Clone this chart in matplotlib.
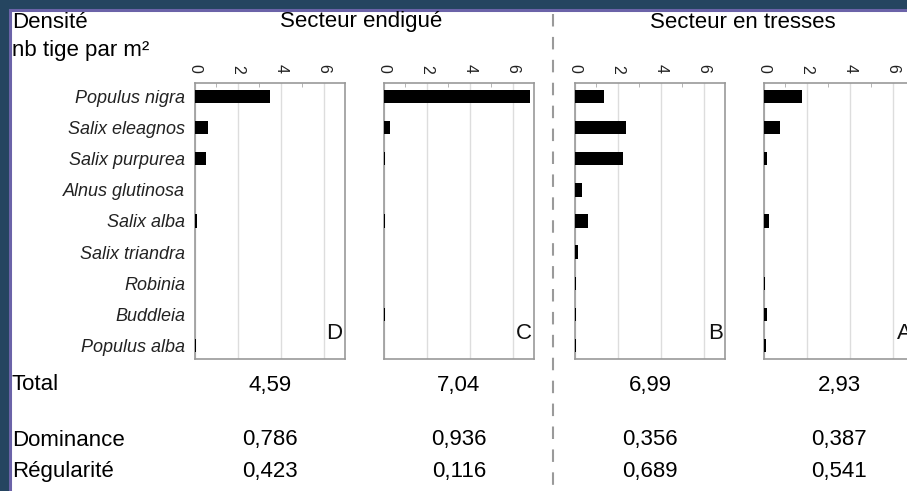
import matplotlib.pyplot as plt
from matplotlib.patches import Rectangle
from matplotlib.lines import Line2D

plt.rcParams['font.family'] = ['Liberation Sans', 'DejaVu Sans']

especes = ['Populus nigra', 'Salix eleagnos', 'Salix purpurea', 'Alnus glutinosa',
           'Salix alba', 'Salix triandra', 'Robinia', 'Buddleia', 'Populus alba']
sites = ['D', 'C', 'B', 'A']
densite_D = [3.5, 0.6, 0.5, 0, 0.07, 0, 0, 0, 0.05]
densite_C = [6.8, 0.27, 0.04, 0, 0.04, 0, 0, 0.04, 0]
densite_B = [1.35, 2.4, 2.25, 0.32, 0.62, 0.12, 0.04, 0.06, 0.06]
densite_A = [1.75, 0.75, 0.12, 0, 0.22, 0, 0.04, 0.12, 0.1]
total = [4.59, 7.04, 6.99, 2.93]
dominance = [0.786, 0.936, 0.356, 0.387]
regularite = [0.423, 0.116, 0.689, 0.541]
secteurs = ['Secteur endigué', 'Secteur en tresses']

W, H = 907, 491
fig = plt.figure(figsize=(W / 100, H / 100), dpi=100)
fig.patch.set_facecolor('#254560')


def fx(px):
    return px / W


def fy(py):
    return 1 - py / H


# cadre blanc de la diapo
fig.add_artist(Rectangle((fx(10), -0.1), 1.2, fy(10) + 0.1, transform=fig.transFigure,
                         facecolor='white', edgecolor='#6b63a8', linewidth=2.2, zorder=0))

gauches = [195, 384, 575, 764]
largeur, haut, bas = 150, 83, 359
series = [densite_D, densite_C, densite_B, densite_A]

for i, (x0, vals, lettre) in enumerate(zip(gauches, series, sites)):
    ax = fig.add_axes([fx(x0), fy(bas), fx(largeur), (bas - haut) / H])
    ax.barh(range(len(especes)), vals, height=0.42, color='black', zorder=3)
    ax.set_xlim(0, 7)
    ax.set_ylim(len(especes) - 0.55, -0.45)
    ax.set_xticks([0, 2, 4, 6])
    ax.set_xticks([1, 3, 5], minor=True)
    ax.xaxis.tick_top()
    ax.tick_params(axis='x', which='major', length=0, pad=7, labelsize=11.5,
                   labelrotation=-90, colors='#222222')
    ax.tick_params(axis='x', which='minor', direction='in', length=3, color='#aaaaaa')
    ax.grid(axis='x', color='#dddddd', linewidth=1, zorder=0)
    ax.set_yticks(range(len(especes)))
    if i == 0:
        ax.set_yticklabels(especes, fontstyle='italic', fontsize=13, color='#222222')
    else:
        ax.set_yticklabels([])
    ax.tick_params(axis='y', length=0, pad=7)
    for s in ax.spines.values():
        s.set_color('#999999')
        s.set_linewidth(1.2)
    ax.text(0.985, 0.094, lettre, transform=ax.transAxes, ha='right', va='center',
            fontsize=16, color='#111111')

    cx = fx(x0 + largeur / 2)
    fig.text(cx, fy(385), f'{total[i]:.2f}'.replace('.', ','), ha='center', va='center', fontsize=16)
    fig.text(cx, fy(440), f'{dominance[i]:.3f}'.replace('.', ','), ha='center', va='center', fontsize=16)
    fig.text(cx, fy(472), f'{regularite[i]:.3f}'.replace('.', ','), ha='center', va='center', fontsize=16)

fig.text(fx(12), fy(23), 'Densité', ha='left', va='center', fontsize=16)
fig.text(fx(12), fy(50), 'nb tige par m²', ha='left', va='center', fontsize=16)
fig.text(fx(361), fy(22), secteurs[0], ha='center', va='center', fontsize=16)
fig.text(fx(743), fy(22), secteurs[1], ha='center', va='center', fontsize=16)

for lab, y in [('Total', 385), ('Dominance', 440), ('Régularité', 472)]:
    fig.text(fx(12), fy(y), lab, ha='left', va='center', fontsize=16)

# séparation entre les deux secteurs
fig.add_artist(Line2D([fx(553), fx(553)], [fy(14), 0], transform=fig.transFigure,
                      color='#9a9a9a', linewidth=1.5, dashes=(6, 5)))

fig.savefig('out.png', dpi=100, facecolor=fig.get_facecolor())
